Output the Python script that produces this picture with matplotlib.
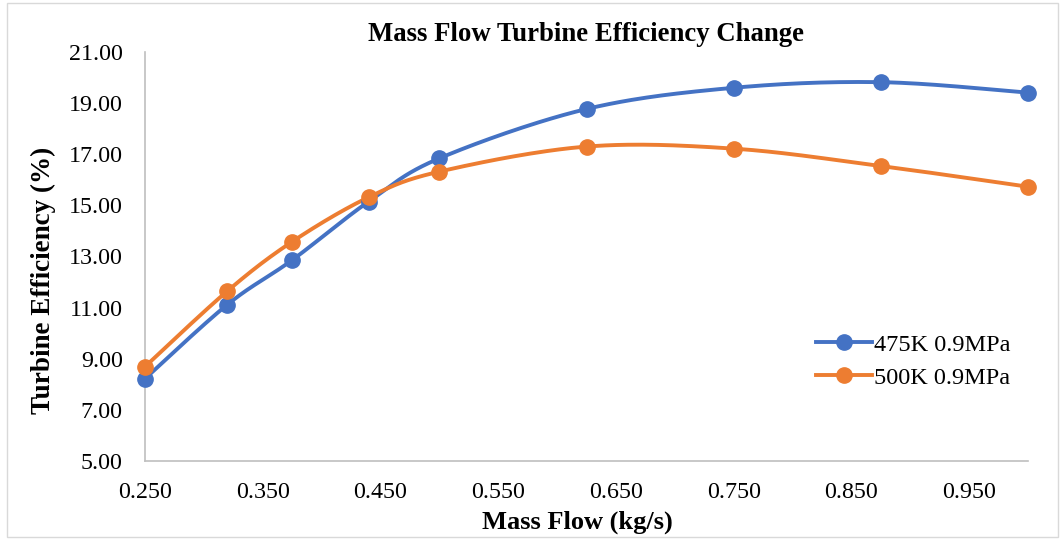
import numpy as np
import matplotlib
matplotlib.use("Agg")
import matplotlib.pyplot as plt
from matplotlib.patches import Rectangle

plt.rcParams['font.family'] = ['Liberation Serif', 'DejaVu Serif']

mass_flow = [0.25, 0.32, 0.375, 0.44, 0.50, 0.625, 0.75, 0.875, 1.0]
eff_475k = [8.22, 11.12, 12.86, 15.15, 16.84, 18.77, 19.60, 19.82, 19.41]
eff_500k = [8.69, 11.65, 13.58, 15.32, 16.32, 17.30, 17.22, 16.54, 15.73]
series_labels = ["475K 0.9MPa", "500K 0.9MPa"]
x_ticks = [0.25, 0.35, 0.45, 0.55, 0.65, 0.75, 0.85, 0.95]
y_ticks = [5, 7, 9, 11, 13, 15, 17, 19, 21]

BLUE = "#4472C4"
ORANGE = "#ED7D31"


def smooth_curve(xs, ys, n=40):
    """Bezier smoothing through every point (Catmull-Rom style tangents)."""
    pts = np.column_stack([xs, ys]).astype(float)
    out = [pts[0]]
    for i in range(len(pts) - 1):
        p0 = pts[i - 1] if i > 0 else pts[i]
        p1 = pts[i]
        p2 = pts[i + 1]
        p3 = pts[i + 2] if i + 2 < len(pts) else pts[i + 1]
        c1 = p1 + (p2 - p0) / 6.0
        c2 = p2 - (p3 - p1) / 6.0
        t = np.linspace(0, 1, n)[1:, None]
        seg = ((1 - t) ** 3) * p1 + 3 * ((1 - t) ** 2) * t * c1 \
            + 3 * (1 - t) * t ** 2 * c2 + t ** 3 * p2
        out.extend(seg)
    out = np.array(out)
    return out[:, 0], out[:, 1]


fig = plt.figure(figsize=(10.63, 5.39), dpi=100)
W, H = 1063, 539
ax = fig.add_axes([145 / W, (H - 461) / H, (1028 - 145) / W, (461 - 52) / H])

for ys, color, label in [(eff_475k, BLUE, series_labels[0]),
                         (eff_500k, ORANGE, series_labels[1])]:
    sx, sy = smooth_curve(mass_flow, ys)
    ax.plot(sx, sy, color=color, lw=2.8, solid_capstyle='round', clip_on=False)
    ax.plot(mass_flow, ys, 'o', color=color, ms=11, clip_on=False, zorder=3)
    ax.plot([], [], '-o', color=color, lw=2.8, ms=11, label=label)

ax.set_xlim(0.25, 1.0)
ax.set_ylim(5, 21)
ax.set_xticks(x_ticks)
ax.set_xticklabels([f"{v:.3f}" for v in x_ticks])
ax.set_yticks(y_ticks)
ax.set_yticklabels([f"{v:.2f}" for v in y_ticks])
ax.tick_params(length=0, labelsize=17.3)
ax.tick_params(axis='x', pad=15)
ax.tick_params(axis='y', pad=16)

for side in ("top", "right"):
    ax.spines[side].set_visible(False)
for side in ("left", "bottom"):
    ax.spines[side].set_color("#BFBFBF")
    ax.spines[side].set_linewidth(1.2)

ax.set_title("Mass Flow Turbine Efficiency Change", fontsize=19.3,
             fontweight="bold", pad=8)
ax.set_xlabel("Mass Flow (kg/s)", fontsize=19, fontweight="bold", labelpad=4)
ax.xaxis.set_label_coords((577 - 145) / (1028 - 145), -0.12)
ax.set_ylabel("Turbine Efficiency (%)", fontsize=19.5, fontweight="bold")
ax.yaxis.set_label_coords(-(145 - 56) / (1028 - 145), (461 - 280) / (461 - 52))

leg = ax.legend(loc="center left", bbox_to_anchor=(0.735, 0.244), frameon=False,
                fontsize=17.5, handlelength=2.3, handletextpad=0.1,
                labelspacing=0.45)

fig.patches.append(Rectangle((7 / W, 2 / H), (1058 - 7) / W, (536 - 2) / H,
                             transform=fig.transFigure, fill=False,
                             edgecolor="#D9D9D9", lw=1.0))

fig.savefig("out.png", dpi=100)
